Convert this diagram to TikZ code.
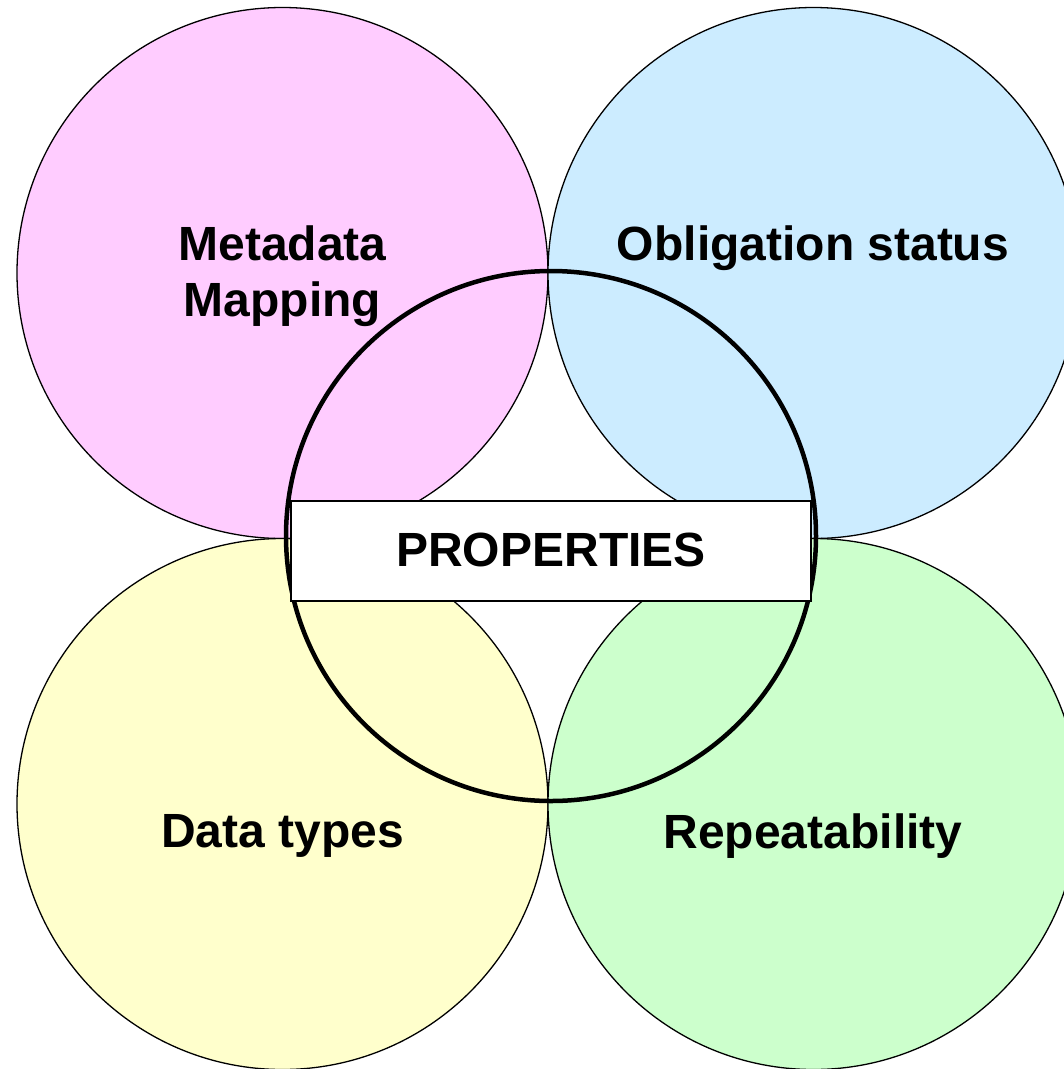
\documentclass[tikz,border=0pt]{standalone}
\usepackage{fontspec}
\setmainfont{Liberation Sans}
\definecolor{cpink}{HTML}{FFCCFF}
\definecolor{cblue}{HTML}{CCECFF}
\definecolor{cyellow}{HTML}{FFFFCC}
\definecolor{cgreen}{HTML}{CCFFCC}
\begin{document}
\begin{tikzpicture}[x=1pt,y=-1pt,
  petal/.style={draw=black,line width=1.3pt},
  lbl/.style={font=\fontsize{48}{56}\selectfont\bfseries,align=center,inner sep=0pt}]
\useasboundingbox (0,0) rectangle (1064,1069);
\clip (0,0) rectangle (1064,1069);
\fill[white] (0,0) rectangle (1064,1069);
\path[petal,fill=cpink] (282.5,273) circle[radius=265.5];
\path[petal,fill=cblue] (813.5,273) circle[radius=265.5];
\path[petal,fill=cyellow] (282.5,804) circle[radius=265.5];
\path[petal,fill=cgreen] (813.5,804) circle[radius=265.5];
\draw[line width=4.5pt] (551,536) circle[radius=265];
\node[draw=black,line width=1.5pt,fill=white,minimum width=520pt,minimum height=100pt,inner sep=0pt] (props) at (551,551) {};
\node[lbl] (ptext) at (551,550) {PROPERTIES};
\node[lbl] (meta) at (282.5,276) {Metadata\\Mapping};
\node[lbl] (oblig) at (813,248) {Obligation status};
\node[lbl] (dtypes) at (282.5,836) {Data types};
\node[lbl] (repeat) at (813,836) {Repeatability};
\end{tikzpicture}
\end{document}
